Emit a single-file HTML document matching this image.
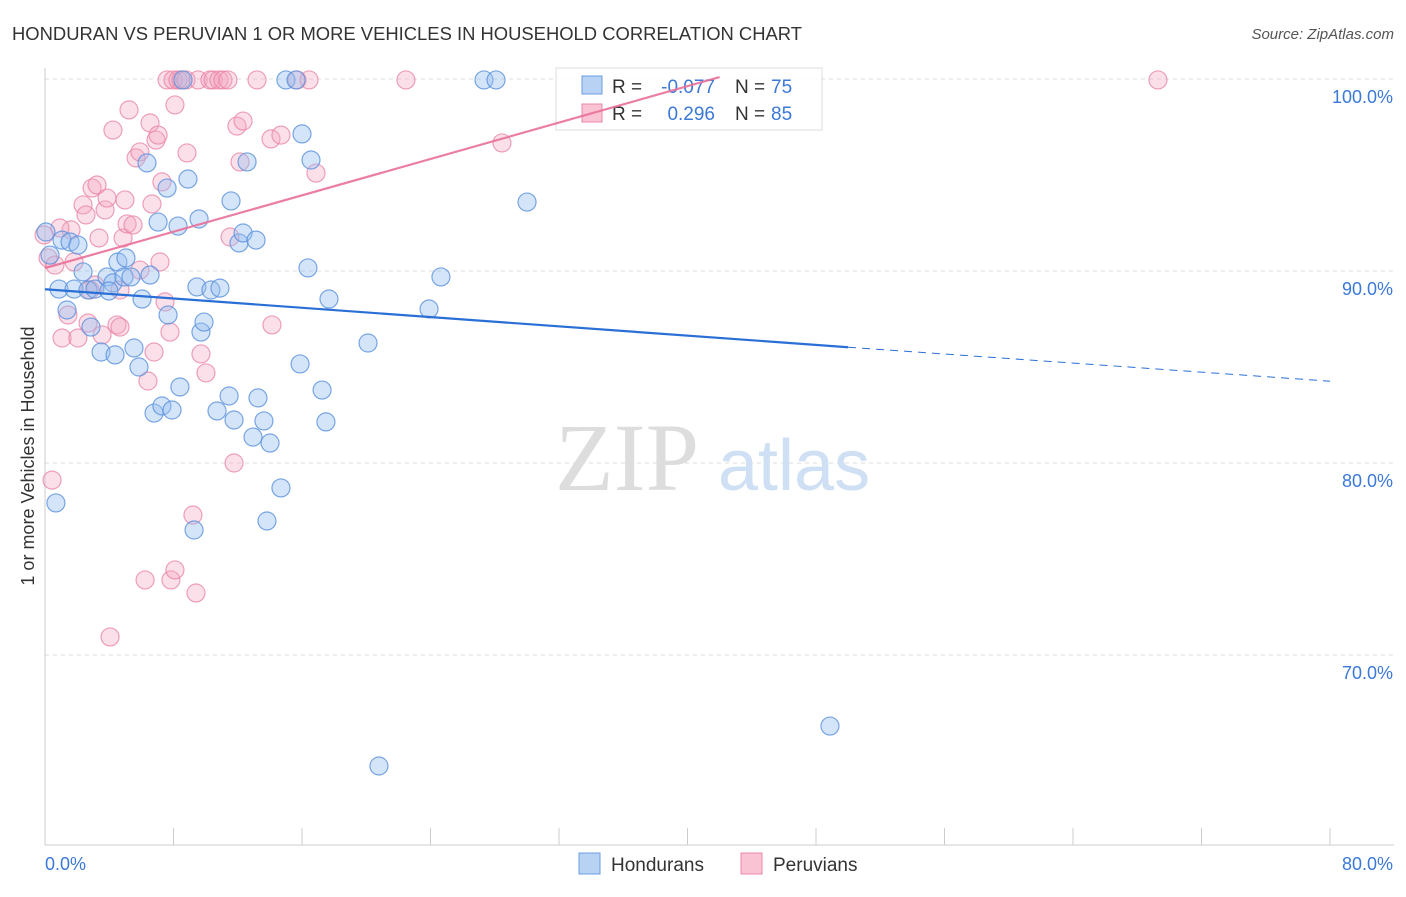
<!DOCTYPE html>
<html><head><meta charset="utf-8">
<style>
body{margin:0;background:#fff;font-family:"Liberation Sans",sans-serif;}
svg text{font-family:"Liberation Sans",sans-serif;}
</style></head>
<body>
<svg id="chart" width="1406" height="892" xmlns="http://www.w3.org/2000/svg">
<text x="12" y="40" font-size="18" fill="#333" textLength="790" lengthAdjust="spacingAndGlyphs">HONDURAN VS PERUVIAN 1 OR MORE VEHICLES IN HOUSEHOLD CORRELATION CHART</text>
<text x="1394" y="39" font-size="15" fill="#555" text-anchor="end" font-style="italic">Source: ZipAtlas.com</text>
<text transform="translate(34,456) rotate(-90)" font-size="18" fill="#333" text-anchor="middle">1 or more Vehicles in Household</text>
<g id="grid"></g>
<g id="ticks"></g>
<text x="555" y="490" font-size="96" fill="#ddd" style="font-family:'Liberation Serif',serif">ZIP</text>
<text x="718" y="490" font-size="72" fill="#cfe0f4">atlas</text>
<g id="pts"></g>
<g>
<rect x="556" y="68" width="266" height="62" fill="#fff" fill-opacity="0.85" stroke="#ddd"/>
<rect x="582" y="76" width="20" height="18" fill="#b8d2f4" stroke="#6a9ee0"/>
<text x="612" y="93" font-size="19" fill="#333">R =</text>
<text x="715" y="93" font-size="19" fill="#3b78d8" text-anchor="end">-0.077</text>
<text x="735" y="93" font-size="19" fill="#333">N =</text>
<text x="771" y="93" font-size="19" fill="#3b78d8">75</text>
<rect x="582" y="104" width="20" height="18" fill="#f9c3d3" stroke="#e88aa8"/>
<text x="612" y="120" font-size="19" fill="#333">R =</text>
<text x="715" y="120" font-size="19" fill="#3b78d8" text-anchor="end">0.296</text>
<text x="735" y="120" font-size="19" fill="#333">N =</text>
<text x="771" y="120" font-size="19" fill="#3b78d8">85</text>
</g>
<g id="trends"></g>
<g>
<rect x="579" y="853" width="21" height="21" fill="#b8d2f4" stroke="#6a9ee0"/>
<text x="611" y="871" font-size="19" fill="#333">Hondurans</text>
<rect x="741" y="853" width="21" height="21" fill="#f9c3d3" stroke="#e88aa8"/>
<text x="773" y="871" font-size="19" fill="#333">Peruvians</text>
</g>
</svg>
<script>
const xTicks=[0,8,16,24,32,40,48,56,64,72,80];
const yTicks=[70,80,90,100];
const yTickLabels=["70.0%","80.0%","90.0%","100.0%"];
const hondPx=[[56,503],[59,289],[67,310],[74,289],[83,272],[88,290],[91,327],[95,289],[101,352],[107,277],[113,283],[115,355],[118,262],[124,277],[126,258],[131,277],[134,348],[139,367],[142,299],[147,163],[150,275],[154,413],[158,222],[162,406],[167,188],[172,410],[178,226],[180,387],[183,80],[188,179],[194,530],[197,287],[199,219],[201,332],[204,322],[211,290],[217,411],[220,288],[229,396],[231,201],[234,420],[239,243],[243,233],[247,162],[253,437],[256,240],[258,398],[264,421],[267,521],[270,443],[281,488],[286,80],[296,80],[300,364],[302,134],[308,268],[311,160],[322,390],[326,422],[329,299],[368,343],[379,766],[429,309],[441,277],[484,80],[496,80],[527,202],[830,726],[46,232],[50,255],[62,240],[70,242],[78,245],[109,291],[168,315]];
const peruPx=[[44,235],[48,258],[52,480],[55,265],[62,338],[68,315],[71,230],[74,262],[78,338],[83,205],[86,215],[88,323],[92,188],[95,285],[97,185],[99,238],[102,335],[105,210],[107,198],[110,637],[113,130],[117,325],[120,327],[123,238],[125,200],[127,224],[129,110],[133,225],[136,158],[140,152],[145,580],[148,381],[150,123],[152,204],[154,352],[156,140],[158,135],[160,262],[162,182],[165,302],[167,80],[170,332],[173,80],[175,105],[178,80],[181,80],[186,80],[187,153],[193,515],[196,593],[198,80],[201,354],[206,373],[210,80],[213,80],[219,80],[223,80],[228,80],[230,237],[234,463],[237,126],[240,162],[243,121],[257,80],[271,139],[272,325],[281,135],[297,80],[309,80],[316,173],[406,80],[502,143],[1158,80],[171,580],[175,570],[60,228],[90,290],[120,290],[140,270]];
const hondX=hondPx.map(p=>+((p[0]-45)/16.0625).toFixed(2));
const hondY=hondPx.map(p=>+(100-(p[1]-79)/19.2).toFixed(2));
const peruX=peruPx.map(p=>+((p[0]-45)/16.0625).toFixed(2));
const peruY=peruPx.map(p=>+(100-(p[1]-79)/19.2).toFixed(2));
const hondTrend=[[0,89.05],[50,86.03],[80,84.26]];
const peruTrend=[[0,90.15],[42,100.1]];

const X=v=>45+v*16.0625, Y=v=>79+(100-v)*19.2;
const NS="http://www.w3.org/2000/svg";
function mk(t,a,p){const e=document.createElementNS(NS,t);for(const k in a)e.setAttribute(k,a[k]);p.appendChild(e);return e;}
const grid=document.getElementById('grid'),ticks=document.getElementById('ticks');
yTicks.forEach((v,i)=>{
 const l=mk('line',{x1:45,x2:1394,y1:Y(v),y2:Y(v),stroke:'#ddd','stroke-dasharray':'4,4'},grid);
 
 
 const t=mk('text',{x:1393,y:Y(v)+24,'font-size':18,fill:'#3b78d8','text-anchor':'end'},ticks);
 t.textContent=yTickLabels[i];
 
 
});
mk('line',{x1:45,x2:45,y1:68,y2:845,stroke:'#ccc'},ticks);
mk('line',{x1:45,x2:1394,y1:845,y2:845,stroke:'#ccc'},ticks);
xTicks.forEach(v=>{const l=mk('line',{x1:X(v),x2:X(v),y1:828,y2:845,stroke:'#ccc'},ticks);
 
 });
let t0=mk('text',{x:45,y:870,'font-size':18,fill:'#3b78d8'},ticks);t0.textContent='0.0%';
let t1=mk('text',{x:1393,y:870,'font-size':18,fill:'#3b78d8','text-anchor':'end'},ticks);t1.textContent='80.0%';
const pts=document.getElementById('pts');
peruX.forEach((x,i)=>{const c=mk('circle',{cx:X(x),cy:Y(peruY[i]),r:9,fill:'rgba(244,166,192,0.35)',stroke:'rgba(232,130,165,0.75)','stroke-width':1.2},pts);
 
 });
hondX.forEach((x,i)=>{const c=mk('circle',{cx:X(x),cy:Y(hondY[i]),r:9,fill:'rgba(150,190,240,0.4)',stroke:'rgba(90,145,220,0.8)','stroke-width':1.2},pts);
 
 });
const tr=document.getElementById('trends');
let a=mk('line',{x1:X(hondTrend[0][0]),y1:Y(hondTrend[0][1]),x2:X(hondTrend[1][0]),y2:Y(hondTrend[1][1]),stroke:'#2a6fd6','stroke-width':2.2},tr);


let b=mk('line',{x1:X(hondTrend[1][0]),y1:Y(hondTrend[1][1]),x2:X(hondTrend[2][0]),y2:Y(hondTrend[2][1]),stroke:'#2a6fd6','stroke-width':1,'stroke-dasharray':'8,6'},tr);


let c=mk('line',{x1:X(peruTrend[0][0]),y1:Y(peruTrend[0][1]),x2:X(peruTrend[1][0]),y2:Y(peruTrend[1][1]),stroke:'#e8709a','stroke-width':2.2,'stroke-opacity':0.9},tr);


</script>
</body></html>
